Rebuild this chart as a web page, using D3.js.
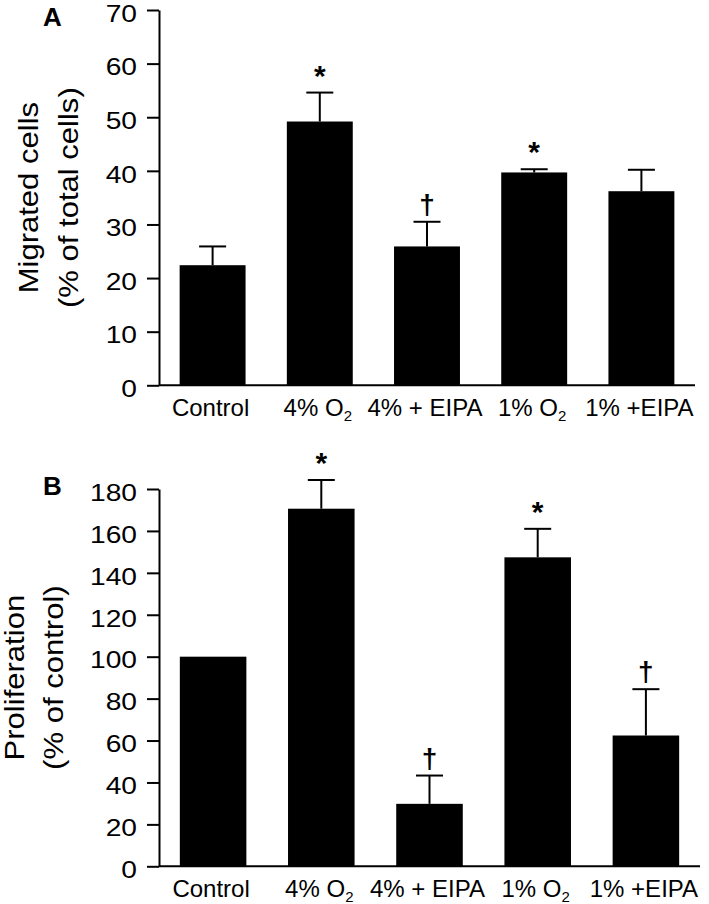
<!DOCTYPE html>
<html>
<head>
<meta charset="utf-8">
<script src="https://cdn.jsdelivr.net/npm/d3@7/dist/d3.min.js"></script>
<style>
  html, body { margin: 0; padding: 0; background: #fff; }
  svg { display: block; }
  text { font-family: "Liberation Sans", Arial, Helvetica, sans-serif; fill: #000; }
</style>
</head>
<body>
<svg id="chart" width="709" height="904"></svg>
<script>
// ---------- data ----------
const categories = ["Control", "4% O2", "4% + EIPA", "1% O2", "1% +EIPA"];

const migratedMean = [22.4, 49.2, 25.9, 39.7, 36.2];
const migratedErr  = [3.5, 5.4, 4.6, 0.6, 4.0];
const migratedSig  = ["", "*", "\u2020", "*", ""];
const migratedTicks = [0, 10, 20, 30, 40, 50, 60, 70];
const migratedTitle = ["Migrated cells", "(% of total cells)"];

const prolifMean = [100, 170.6, 29.8, 147.4, 62.4];
const prolifErr  = [0, 13.7, 13.5, 13.6, 22.1];
const prolifSig  = ["", "*", "\u2020", "*", "\u2020"];
const prolifTicks = [0, 20, 40, 60, 80, 100, 120, 140, 160, 180];
const prolifTitle = ["Proliferation", "(% of control)"];

// ---------- drawing ----------
const svg = d3.select("#chart");

function addLabel(sel, label) {
  // render "O2" with subscript 2
  const m = label.match(/^(.*O)2$/);
  if (m) {
    sel.append("tspan").text(m[1]);
    sel.append("tspan").attr("font-size", "15px").attr("dy", "5").text("2");
  } else {
    sel.text(label);
  }
}

function drawPanel(cfg) {
  const g = svg.append("g");
  const x = d3.scaleBand()
    .domain(categories)
    .range([cfg.left, cfg.right])
    .paddingInner(0.385)
    .paddingOuter(0.1925);
  const y = d3.scaleLinear()
    .domain([0, d3.max(cfg.ticks)])
    .range([cfg.bottom, cfg.top]);

  // y axis
  const yAxis = d3.axisLeft(y)
    .tickValues(cfg.ticks)
    .tickSize(12)
    .tickSizeOuter(0)
    .tickPadding(10)
    .tickFormat(d3.format("d"));
  const ay = g.append("g")
    .attr("transform", `translate(${cfg.left},0)`)
    .call(yAxis);
  ay.attr("font-family", null).attr("font-size", null);
  ay.select(".domain").attr("stroke", "#000").attr("stroke-width", 2);
  ay.selectAll(".tick line").attr("stroke", "#000").attr("stroke-width", 2);
  ay.selectAll(".tick text")
    .attr("font-size", "24.5px")
    .attr("x", null)
    .attr("dy", "0.46em")
    .attr("transform", "translate(-22,0) scale(1.15,1)");

  // bottom axis line
  g.append("line")
    .attr("x1", cfg.left).attr("x2", cfg.right)
    .attr("y1", y(0)).attr("y2", y(0))
    .attr("stroke", "#000").attr("stroke-width", 2);

  // bars
  g.selectAll("rect.bar")
    .data(cfg.mean)
    .join("rect")
    .attr("class", "bar")
    .attr("x", (d, i) => x(categories[i]))
    .attr("width", x.bandwidth())
    .attr("y", d => y(d))
    .attr("height", d => y(0) - y(d))
    .attr("fill", "#000");

  // error bars
  const cap = 27;
  cfg.mean.forEach((m, i) => {
    const e = cfg.err[i];
    if (!e) return;
    const cx = x(categories[i]) + x.bandwidth() / 2;
    g.append("line")
      .attr("x1", cx).attr("x2", cx)
      .attr("y1", y(m)).attr("y2", y(m + e))
      .attr("stroke", "#000").attr("stroke-width", 2);
    g.append("line")
      .attr("x1", cx - cap / 2).attr("x2", cx + cap / 2)
      .attr("y1", y(m + e)).attr("y2", y(m + e))
      .attr("stroke", "#000").attr("stroke-width", 2);
  });

  // significance markers
  cfg.sig.forEach((s, i) => {
    if (!s) return;
    const cx = x(categories[i]) + x.bandwidth() / 2;
    const top = y(cfg.mean[i] + (cfg.err[i] || 0));
    const isStar = s === "*";
    g.append("text")
      .attr("x", cx)
      .attr("y", isStar ? top - 7 : top - 8)
      .attr("text-anchor", "middle")
      .attr("font-size", isStar ? "30px" : "28px")
      .attr("font-weight", "bold")
      .text(s);
  });

  // category labels
  categories.forEach((c, i) => {
    const cx = x(c) + x.bandwidth() / 2 - 2;
    const t = g.append("text")
      .attr("x", cx)
      .attr("y", y(0) + cfg.labelOffset)
      .attr("text-anchor", "middle")
      .attr("font-size", "24px");
    addLabel(t, c);
  });

  // y title (two lines)
  const midY = (cfg.top + cfg.bottom) / 2;
  cfg.title.forEach((line, k) => {
    g.append("text")
      .attr("transform", `translate(${cfg.titleX[k]},${midY}) rotate(-90) scale(1.15,1)`)
      .attr("text-anchor", "middle")
      .attr("font-size", "27px")
      .text(line);
  });

  // panel letter
  g.append("text")
    .attr("x", 43)
    .attr("y", cfg.letterY)
    .attr("font-size", "26px")
    .attr("font-weight", "bold")
    .text(cfg.letter);
}

drawPanel({
  left: 159, right: 695, top: 10, bottom: 385.3,
  mean: migratedMean, err: migratedErr, sig: migratedSig,
  ticks: migratedTicks, title: migratedTitle, titleX: [38, 78],
  labelOffset: 31, letter: "A", letterY: 26
});

drawPanel({
  left: 159, right: 700, top: 489, bottom: 866.3,
  mean: prolifMean, err: prolifErr, sig: prolifSig,
  ticks: prolifTicks, title: prolifTitle, titleX: [24, 63],
  labelOffset: 31, letter: "B", letterY: 495
});
</script>
</body>
</html>
